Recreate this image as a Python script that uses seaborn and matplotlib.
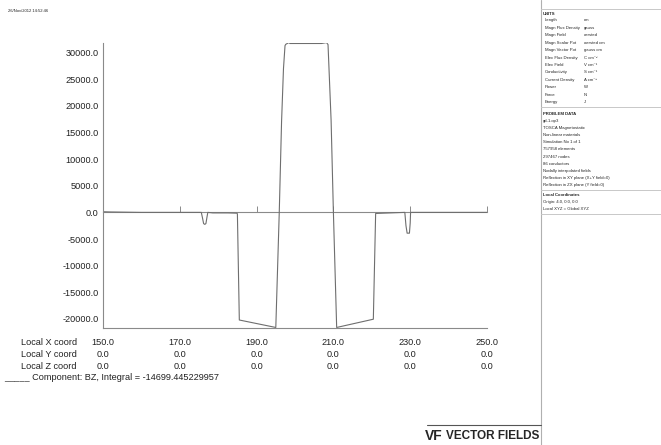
import matplotlib
matplotlib.use("Agg")
import matplotlib.pyplot as plt
from matplotlib.lines import Line2D
import seaborn as sns

# %% data (Local X coord vs BZ)
x_coord = [150.0, 152.0, 160.0, 170.0, 175.6, 175.9, 176.2, 176.5, 176.8, 177.1, 177.3,
           178.6, 182.6, 184.9, 185.0, 185.5, 195.0, 195.9, 196.5, 197.0, 197.4,
           197.6, 198.4, 198.7, 206.9, 208.2, 208.6, 209.4, 210.0, 210.85, 220.4,
           221.0, 228.6, 228.9, 229.2, 229.8, 230.0, 230.1, 240.0, 250.0]
bz = [120, 80, 0, 0, 0, -1000, -2100, -2250, -2100, -800, 0,
      -100, -100, -150, -300, -20200, -21600, 0, 17000, 27000, 31300,
      31550, 31870, 31700, 31700, 31870, 31500, 17300, 0, -21600, -20050,
      -200, 0, -2500, -3900, -3900, -2000, 0, 0, 0]

x_ticks = [150.0, 170.0, 190.0, 210.0, 230.0, 250.0]
y_coord = [0.0, 0.0, 0.0, 0.0, 0.0, 0.0]
z_coord = [0.0, 0.0, 0.0, 0.0, 0.0, 0.0]
y_ticks = [-20000, -15000, -10000, -5000, 0, 5000, 10000, 15000, 20000, 25000, 30000]
integral = -14699.445229957

units = [("Length", "cm"), ("Magn Flux Density", "gauss"), ("Magn Field", "oersted"),
         ("Magn Scalar Pot", "oersted cm"), ("Magn Vector Pot", "gauss cm"),
         ("Elec Flux Density", "C cm⁻²"), ("Elec Field", "V cm⁻¹"),
         ("Conductivity", "S cm⁻¹"), ("Current Density", "A cm⁻²"),
         ("Power", "W"), ("Force", "N"), ("Energy", "J")]
problem_data = ["gd-1.op3", "TOSCA Magnetostatic", "Non-linear materials",
                "Simulation No 1 of 1", "757958 elements", "297467 nodes",
                "86 conductors", "Nodally interpolated fields",
                "Reflection in XY plane (X+Y field=0)",
                "Reflection in ZX plane (Y field=0)"]
local_coords = ["Origin: 4.0, 0.0, 0.0", "Local XYZ = Global XYZ"]

# %% style
sns.set_style("white")
plt.rcParams["font.family"] = ["Liberation Sans", "DejaVu Sans"]
W, H = 661, 445
fig = plt.figure(figsize=(W / 100, H / 100), dpi=100)


def fx(px):
    return px / W


def fy(py):
    return 1 - py / H


ax = fig.add_axes([fx(103), fy(328), fx(487) - fx(103), fy(42.7) - fy(328)])
gray = "#8a8a8a"
fs = 6.6
ls = 1.47

sns.lineplot(x=x_coord, y=bz, ax=ax, color="#6e6e6e", linewidth=0.8)
ax.set_xlim(150, 250)
ax.set_ylim(-21700, 31850)

for s in ["top", "right"]:
    ax.spines[s].set_visible(False)
for s in ["left", "bottom"]:
    ax.spines[s].set_color(gray)
    ax.spines[s].set_linewidth(0.8)

ax.set_yticks(y_ticks)
ax.set_yticklabels([f"{v:.1f}" for v in y_ticks])
ax.tick_params(axis="y", direction="out", length=2.5, width=0.7, color=gray,
               pad=0.5, labelsize=fs, labelcolor="#222222")

ax.set_xticks(x_ticks)
ax.set_xticklabels([f"{a:.1f}\n{b:.1f}\n{c:.1f}" for a, b, c in zip(x_ticks, y_coord, z_coord)],
                   linespacing=ls)
ax.tick_params(axis="x", direction="in", length=4, width=0.7, color=gray,
               pad=7, labelsize=fs, labelcolor="#222222")

# zero axis line with its own tick marks
y0 = (0 - ax.get_ylim()[0]) / (ax.get_ylim()[1] - ax.get_ylim()[0])
sec = ax.secondary_xaxis(y0)
sec.set_xticks(x_ticks)
sec.tick_params(direction="in", length=4, width=0.7, color=gray, labelbottom=False)
sec.spines["bottom"].set_color(gray)
sec.spines["bottom"].set_linewidth(0.8)

# row labels under the x axis
fig.text(fx(21), fy(337.8), "Local X coord\nLocal Y coord\nLocal Z coord",
         fontsize=fs, va="top", ha="left", linespacing=ls, color="#222222")
fig.text(fx(4), fy(377), f"_____ Component: BZ, Integral = {integral:.9f}",
         fontsize=fs, va="center", ha="left", color="#222222")

# date stamp
fig.text(fx(8), fy(11), "26/Nov/2012 14:52:46", fontsize=3, va="center", color="#222222")

# %% right info panel
panel_x = 541
fig.add_artist(Line2D([fx(panel_x)] * 2, [0, 1], color="#b0b0b0", lw=0.8))
for yy in [9.3, 107, 190, 214]:
    fig.add_artist(Line2D([fx(panel_x), 1], [fy(yy)] * 2, color="#c8c8c8", lw=0.7))

pfs = 3.1
fig.text(fx(543), fy(14), "UNITS", fontsize=pfs, weight="bold", va="center")
for i, (name, unit) in enumerate(units):
    yy = 20.3 + i * 7.45
    fig.text(fx(545), fy(yy), name, fontsize=pfs, va="center")
    fig.text(fx(584), fy(yy), unit, fontsize=pfs, va="center")

fig.text(fx(543), fy(114.3), "PROBLEM DATA", fontsize=pfs, weight="bold", va="center")
for i, line in enumerate(problem_data):
    fig.text(fx(543), fy(121 + i * 7.1), line, fontsize=pfs, va="center")

fig.text(fx(543), fy(195.5), "Local Coordinates", fontsize=pfs, weight="bold", va="center")
for i, line in enumerate(local_coords):
    fig.text(fx(543), fy(202.3 + i * 6.7), line, fontsize=pfs, va="center")

# logo
fig.add_artist(Line2D([fx(427), fx(panel_x)], [fy(424.5)] * 2, color="#555555", lw=0.8))
fig.text(fx(425), fy(435.5), "VF", fontsize=10, weight="bold", va="center", ha="left")
fig.text(fx(539), fy(436), "VECTOR FIELDS", fontsize=8.5, weight="bold", va="center",
         ha="right")

fig.savefig("out.png", dpi=100)
